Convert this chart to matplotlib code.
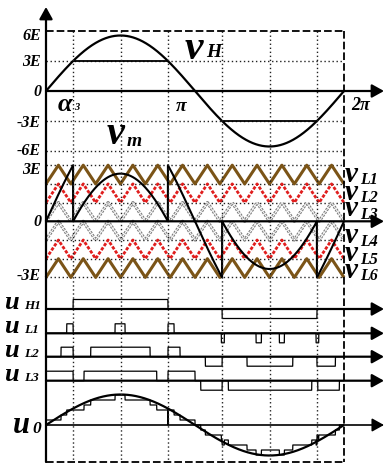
import numpy as np
import matplotlib
matplotlib.use("Agg")
import matplotlib.pyplot as plt

plt.rcParams["lines.scale_dashes"] = False
plt.rcParams["lines.solid_capstyle"] = "butt"

# ---------------- data ----------------
AMP_H = 5.55                 # peak of v_H, in units of E
N_CARRIER = 12               # carrier periods per fundamental period
carrier_labels = ["L1", "L2", "L3", "L4", "L5", "L6"]
carrier_low = [2, 1, 0, -1, -2, -3]
carrier_high = [3, 2, 1, 0, -1, -2]
top_levels = [6, 3, 0, -3, -6]
top_level_text = ["6E", "3E", "0", "-3E", "-6E"]
mid_levels = [3, 0, -3]
mid_level_text = ["3E", "0", "-3E"]

# switching instants (rad) and output levels of the low-voltage cells
uL1_on = [0.436, 1.455, 2.571, 3.696, 4.428, 4.919, 5.693]
uL1_off = [0.571, 1.666, 2.699, 3.759, 4.540, 5.025, 5.750]
uL1_lvl = [1, 1, 1, -1, -1, -1, -1]
uL2_on = [0.316, 0.942, 2.571, 3.359, 4.238, 5.712]
uL2_off = [0.571, 2.193, 2.825, 3.713, 5.202, 6.100]
uL2_lvl = [1, 1, 1, -1, -1, -1]
uL3_on = [0.0, 0.801, 2.571, 3.262, 3.844, 5.729]
uL3_off = [0.571, 2.334, 3.141, 3.713, 5.602, 6.184]
uL3_lvl = [1, 1, 1, -1, -1, -1]
U0_AMP = 6.1                 # reference sine drawn over u0, units of E

# ---------------- layout ----------------
W, H, DPI = 384, 463, 100
X0, X1 = 46, 344             # pixel columns of 0 and 2*pi
TWO_PI = 2 * np.pi


def px2rad(px):
    return (px - X0) * TWO_PI / (X1 - X0)


XL = (px2rad(0), px2rad(W))
FONT = dict(fontfamily="Liberation Serif", fontweight="bold", fontstyle="italic")
DOT = dict(color="#222222", lw=1.0, dashes=(1.0, 1.9))
DASH = dict(color="black", lw=1.3, dashes=(5.5, 2.2))

fig = plt.figure(figsize=(W / DPI, H / DPI), dpi=DPI)


def panel(row_top, row_bot):
    ax = fig.add_axes([0, 1 - row_bot / H, 1, (row_bot - row_top) / H])
    ax.set_xlim(*XL)
    ax.axis("off")
    ax.patch.set_alpha(0)
    return ax


alpha3 = np.arcsin(3 / AMP_H)
t = np.linspace(0, TWO_PI, 6001)
vh = AMP_H * np.sin(t)

# ---- top panel: v_H ----
ZH, SH = 91.0, 10.0            # zero row, pixels per E
ax_h = panel(0, 153)
ax_h.set_ylim((ZH - 153) / SH, ZH / SH)
for lv in (3, -3, -6):
    ax_h.plot([0, TWO_PI], [lv, lv], **DOT)
ax_h.plot(t, vh, color="black", lw=1.6, zorder=4)
ax_h.plot([alpha3, np.pi - alpha3], [3, 3], color="black", lw=1.3)
ax_h.plot([np.pi + alpha3, TWO_PI - alpha3], [-3, -3], color="black", lw=1.3)

# ---- middle panel: carriers and v_m ----
ZM, SM = 221.3, 18.7
ax_m = panel(153, 292)
ax_m.set_ylim((ZM - 292) / SM, (ZM - 153) / SM)
for lv in (3, 2, 1, -1, -2, -3):
    ax_m.plot([0, TWO_PI], [lv, lv], **DOT)

tc = np.arange(2 * N_CARRIER + 1) * np.pi / N_CARRIER
shape = np.arange(2 * N_CARRIER + 1) % 2
for lo, hi in zip(carrier_low, carrier_high):
    vc = lo + (hi - lo) * shape
    if lo in (2, -3):
        ax_m.plot(tc, vc, color="#7B5417", lw=2.2, zorder=3)
    elif lo in (1, -2):
        ax_m.plot(tc, vc, color="#E01E1E", lw=2.0, dashes=(2.4, 1.2), zorder=3)
    else:
        ax_m.plot(tc, vc, color="#7d7d7d", lw=2.3, dashes=(1.6, 0.9), zorder=2)
        ax_m.plot(tc, vc, color="white", lw=0.7, dashes=(1.6, 0.9), zorder=2)

vm = np.where(np.abs(vh) >= 3, vh - 3 * np.sign(vh), vh)
ax_m.plot(t, vm, color="black", lw=1.5, zorder=5)


# ---- bottom panel: switching signals and u0 ----
def pulse_train(on, off, lvl):
    y = np.zeros_like(t)
    for a, b, l in zip(on, off, lvl):
        y[(t >= a) & (t < b)] = l
    return y


uH1 = pulse_train([alpha3, np.pi + alpha3], [np.pi - alpha3, TWO_PI - alpha3], [1, -1])
uL1 = pulse_train(uL1_on, uL1_off, uL1_lvl)
uL2 = pulse_train(uL2_on, uL2_off, uL2_lvl)
uL3 = pulse_train(uL3_on, uL3_off, uL3_lvl)
u0 = 3 * uH1 + uL1 + uL2 + uL3

ax_u = panel(292, 463)
ax_u.set_ylim(463, 292)
PULSE_H = 9.5
rows = {"H1": 309.0, "L1": 333.3, "L2": 356.7, "L3": 380.7}
for key, sig in zip(["H1", "L1", "L2", "L3"], [uH1, uL1, uL2, uL3]):
    ax_u.plot(t, rows[key] - PULSE_H * sig, color="black", lw=0.9, zorder=4)
U0_ROW, U0_PX = 425.0, 5.0
ax_u.plot(t, U0_ROW - U0_PX * u0, color="black", lw=0.9, zorder=4)
ax_u.plot(t, U0_ROW - U0_PX * U0_AMP * np.sin(t), color="black", lw=1.6, zorder=5)

# ---- overlay: frame, axes arrows, guides, labels ----
ax = fig.add_axes([0, 0, 1, 1])
ax.set_xlim(*XL)
ax.set_ylim(H, 0)
ax.axis("off")
ax.patch.set_alpha(0)

for g in (alpha3, np.pi / 2, np.pi - alpha3, np.pi + alpha3, 1.5 * np.pi, TWO_PI - alpha3):
    ax.plot([g, g], [31, 462], **DOT, zorder=1)
ax.plot([0, TWO_PI], [30.8, 30.8], **DASH)
ax.plot([TWO_PI, TWO_PI], [30.8, 462], **DASH)
ax.plot([0, TWO_PI], [462, 462], **DASH)


def arrow(x0, y0, x1, y1, lw=1.6, hl=0.36, hw=0.2):
    ax.annotate("", xy=(x1, y1), xytext=(x0, y0),
                arrowprops=dict(arrowstyle=f"-|>,head_length={hl},head_width={hw}",
                                color="black", lw=lw, shrinkA=0, shrinkB=0,
                                mutation_scale=20), zorder=6)


# vertical axis
arrow(0, 462, 0, 7)
# horizontal axes
x_end = px2rad(384)
for row, lw in [(ZH, 1.6), (ZM, 1.6), (rows["H1"], 1.6), (rows["L1"], 1.6),
                (rows["L2"], 1.6), (rows["L3"], 1.6), (U0_ROW, 1.2)]:
    arrow(0, row, x_end, row, lw=lw)


def label(xpx, row, s, size, **kw):
    ax.text(px2rad(xpx), row, s, fontsize=size, **FONT, **kw)


def sub_label(xpx, row, main, sub, size, sub_size, sub_dx, sub_dy=0):
    label(xpx, row, main, size, ha="left", va="baseline")
    label(xpx + sub_dx, row + sub_dy, sub, sub_size, ha="left", va="baseline")


for lv, txt in zip(top_levels, top_level_text):
    row = {6: 36.5, 3: 61.5, 0: 91.5, -3: 123, -6: 151}[lv]
    label(41, row, txt, 11.5, ha="right", va="center")
for lv, txt in zip(mid_levels, mid_level_text):
    row = {3: 170.5, 0: 222, -3: 275.5}[lv]
    label(41, row, txt, 11.5, ha="right", va="center")

label(64.5, 104.5, "\u03b1", 19, ha="center", va="center")
label(77, 107, "3", 7.5, ha="center", va="center")
label(181, 106.5, "\u03c0", 14, ha="center", va="center")
label(361, 106, "2\u03c0", 13, ha="center", va="center")

# curve labels
sub_label(185, 59, "v", "H", 30, 14, 21, -2)
arrow(190, 64, 177, 77, lw=1.3, hl=0.45, hw=0.25)
sub_label(107, 144, "v", "m", 29, 14, 20, 2)
arrow(139, 147, 166, 164, lw=1.2, hl=0.45, hw=0.25)

v_rows = [181.5, 199.5, 216.5, 243, 261, 278]
for name, row in zip(carrier_labels, v_rows):
    sub_label(345, row, "v", name, 21, 11.5, 15.5, 2.5)

for key, row in rows.items():
    sub_label(4, row, "u", key, 19, 9.5, 20, 0)
sub_label(13, 433, "u", "0", 22, 12.5, 19.5, 0)

fig.savefig("out.png", dpi=DPI)
